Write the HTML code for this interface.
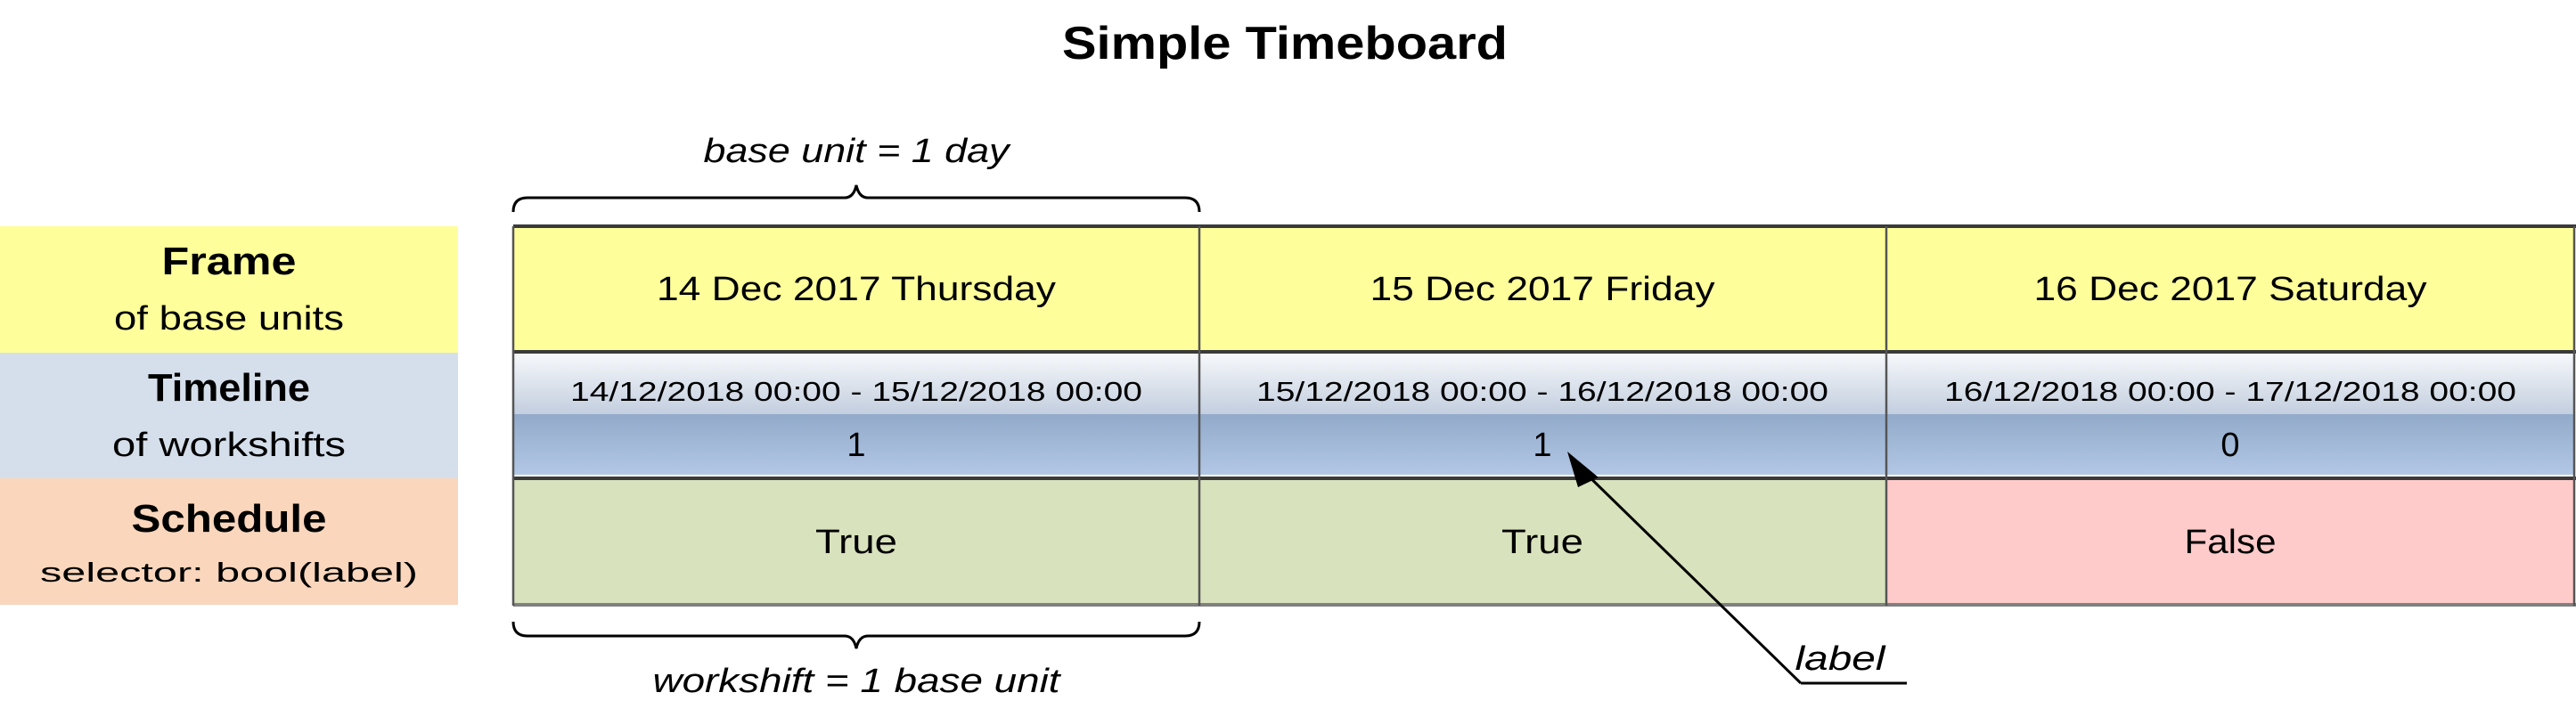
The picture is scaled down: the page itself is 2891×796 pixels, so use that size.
<!DOCTYPE html>
<html><head><meta charset="utf-8"><style>html,body{margin:0;padding:0;background:#fff}svg{display:block}</style></head>
<body>
<svg width="2891" height="796" viewBox="0 0 2891 796" xmlns="http://www.w3.org/2000/svg" font-family="'Liberation Sans', sans-serif">
<defs>
<linearGradient id="g1" x1="0" y1="0" x2="0" y2="1"><stop offset="0" stop-color="#f7f9fb"/><stop offset="1" stop-color="#c3cedf"/></linearGradient>
<linearGradient id="g2" x1="0" y1="0" x2="0" y2="1"><stop offset="0" stop-color="#92aaca"/><stop offset="1" stop-color="#b2c7e5"/></linearGradient>
</defs>
<text x="1442" y="66" font-size="52" font-weight="bold" text-anchor="middle" textLength="500" lengthAdjust="spacingAndGlyphs">Simple Timeboard</text>
<!-- left labels -->
<rect x="0" y="254" width="514" height="142" fill="#feff9a"/>
<rect x="0" y="396" width="514" height="141" fill="#d5dfeb"/>
<rect x="0" y="537" width="514" height="142" fill="#f9d6bc"/>
<g text-anchor="middle" lengthAdjust="spacingAndGlyphs">
<text x="257" y="308" font-size="44" font-weight="bold" textLength="151" lengthAdjust="spacingAndGlyphs">Frame</text>
<text x="257" y="370" font-size="38" textLength="258" lengthAdjust="spacingAndGlyphs">of base units</text>
<text x="257" y="450" font-size="44" font-weight="bold" textLength="182" lengthAdjust="spacingAndGlyphs">Timeline</text>
<text x="257" y="512" font-size="38" textLength="262" lengthAdjust="spacingAndGlyphs">of workshifts</text>
<text x="257" y="597" font-size="44" font-weight="bold" textLength="219" lengthAdjust="spacingAndGlyphs">Schedule</text>
<text x="257" y="653" font-size="31" textLength="424" lengthAdjust="spacingAndGlyphs">selector: bool(label)</text>
</g>
<!-- table -->
<rect x="576" y="255" width="2313" height="140" fill="#feff9a"/>
<rect x="576" y="396" width="2313" height="69" fill="url(#g1)"/>
<rect x="576" y="465" width="2313" height="68" fill="url(#g2)"/>
<rect x="576" y="537" width="1541" height="142" fill="#d8e2bd"/>
<rect x="2117" y="537" width="772" height="142" fill="#fecaca"/>
<g stroke="#3a3a3a" stroke-width="4">
<line x1="576" y1="254" x2="2891" y2="254"/>
<line x1="576" y1="395" x2="2891" y2="395"/>
<line x1="576" y1="537" x2="2891" y2="537"/>
</g>
<line x1="576" y1="679" x2="2891" y2="679" stroke="#808080" stroke-width="4"/>
<g stroke="#555" stroke-width="2.5">
<line x1="576" y1="254" x2="576" y2="680"/>
<line x1="1346" y1="254" x2="1346" y2="680"/>
<line x1="2117" y1="254" x2="2117" y2="680"/>
<line x1="2889" y1="254" x2="2889" y2="680"/>
</g>
<g text-anchor="middle">
<text x="961" y="337" font-size="38" textLength="448" lengthAdjust="spacingAndGlyphs">14 Dec 2017 Thursday</text>
<text x="1731" y="337" font-size="38" textLength="387" lengthAdjust="spacingAndGlyphs">15 Dec 2017 Friday</text>
<text x="2503" y="337" font-size="38" textLength="441" lengthAdjust="spacingAndGlyphs">16 Dec 2017 Saturday</text>
<text x="961" y="450" font-size="31" textLength="642" lengthAdjust="spacingAndGlyphs">14/12/2018 00:00 - 15/12/2018 00:00</text>
<text x="1731" y="450" font-size="31" textLength="642" lengthAdjust="spacingAndGlyphs">15/12/2018 00:00 - 16/12/2018 00:00</text>
<text x="2503" y="450" font-size="31" textLength="642" lengthAdjust="spacingAndGlyphs">16/12/2018 00:00 - 17/12/2018 00:00</text>
<text x="961" y="512" font-size="38">1</text>
<text x="1731" y="512" font-size="38">1</text>
<text x="2503" y="512" font-size="38">0</text>
<text x="961" y="621" font-size="38" textLength="92" lengthAdjust="spacingAndGlyphs">True</text>
<text x="1731" y="621" font-size="38" textLength="92" lengthAdjust="spacingAndGlyphs">True</text>
<text x="2503" y="621" font-size="38" textLength="103" lengthAdjust="spacingAndGlyphs">False</text>
<text x="961" y="182" font-size="38" font-style="italic" textLength="343" lengthAdjust="spacingAndGlyphs">base unit = 1 day</text>
<text x="961" y="777" font-size="38" font-style="italic" textLength="457" lengthAdjust="spacingAndGlyphs">workshift = 1 base unit</text>
</g>
<!-- braces -->
<path d="M576 238 Q576 222 592 222 L948 222 Q958 222 961 208 Q964 222 974 222 L1330 222 Q1346 222 1346 238" fill="none" stroke="#000" stroke-width="3"/>
<path d="M576 698 Q576 714 592 714 L948 714 Q958 714 961 728 Q964 714 974 714 L1330 714 Q1346 714 1346 698" fill="none" stroke="#000" stroke-width="3"/>
<!-- arrow -->
<path d="M2021 767 L1772 524" fill="none" stroke="#000" stroke-width="3"/>
<path d="M2021 767 L2140 767" fill="none" stroke="#000" stroke-width="3"/>
<polygon points="1759,507 1794,536 1771,547" fill="#000"/>
<text x="2065" y="752" font-size="38" font-style="italic" text-anchor="middle" textLength="101" lengthAdjust="spacingAndGlyphs">label</text>
</svg>
</body></html>
